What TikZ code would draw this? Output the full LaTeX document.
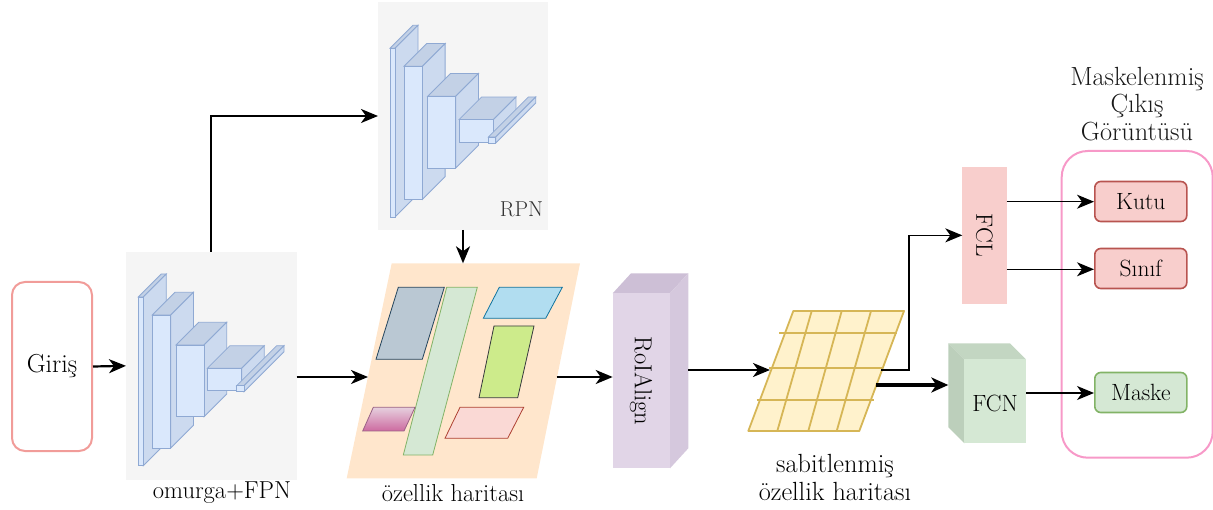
\documentclass[tikz,border=0pt]{standalone}
\usetikzlibrary{arrows.meta,calc}
\definecolor{panelgray}{HTML}{F5F5F5}
\definecolor{cubefront}{HTML}{DAE8FC}
\definecolor{cubetop}{HTML}{C3D1E6}
\definecolor{cubeside}{HTML}{CCDAEF}
\definecolor{cubeedge}{HTML}{8FA9D3}
\definecolor{peach}{HTML}{FFE6CC}
\definecolor{slatefill}{HTML}{BAC8D3}
\definecolor{slateedge}{HTML}{23445D}
\definecolor{greenfill}{HTML}{D5E8D4}
\definecolor{greenedge}{HTML}{82B366}
\definecolor{bluefill}{HTML}{B1DDF0}
\definecolor{blueedge}{HTML}{10739E}
\definecolor{limefill}{HTML}{CDEB8B}
\definecolor{limeedge}{HTML}{36393D}
\definecolor{magtop}{HTML}{E6D0DE}
\definecolor{magbot}{HTML}{CD6AA0}
\definecolor{magedge}{HTML}{996185}
\definecolor{pinkfill}{HTML}{FAD9D5}
\definecolor{pinkedge}{HTML}{AE4132}
\definecolor{lilac}{HTML}{E1D5E7}
\definecolor{lilactop}{HTML}{CDBFD6}
\definecolor{lilacside}{HTML}{D5C8DD}
\definecolor{gridfill}{HTML}{FFF2CC}
\definecolor{gridedge}{HTML}{D6B656}
\definecolor{redfill}{HTML}{F8CECC}
\definecolor{rededge}{HTML}{B85450}
\definecolor{girisedge}{HTML}{F19C99}
\definecolor{outedge}{HTML}{F799C8}
\definecolor{fcntop}{HTML}{C3D6C2}
\definecolor{fcnside}{HTML}{BCCFBB}
\newcommand\cubeblk[5]{%
  \filldraw[cubeedge,fill=cubetop,line width=0.8pt] (#1,#2) -- ++(#5,-#5) -- (#3+#5,#2-#5) -- (#3,#2) -- cycle;
  \filldraw[cubeedge,fill=cubeside,line width=0.8pt] (#3,#2) -- (#3+#5,#2-#5) -- (#3+#5,#4-#5) -- (#3,#4) -- cycle;
  \filldraw[cubeedge,fill=cubefront,line width=0.8pt] (#1,#2) rectangle (#3,#4);}
\newcommand\cnnstack{%
  \cubeblk{138.3}{297}{143.3}{465.7}{23}
  \cubeblk{152.3}{315}{170.7}{448}{22.7}
  \cubeblk{176}{345}{204}{416.7}{22.7}
  \cubeblk{207.3}{368.3}{241.7}{390.7}{22.5}
  \cubeblk{236.7}{385.7}{244}{391.7}{40}}
\begin{document}
\begin{tikzpicture}[x=1pt,y=-1pt,
  font=\fontsize{17.28}{21}\selectfont,
  panel/.style={fill=panelgray,inner sep=0pt,outer sep=0pt,anchor=north west},
  arr/.style={line width=2.2pt,-{Stealth[length=17pt,width=14pt,inset=5pt]}},
  thinarr/.style={line width=1.4pt,-{Stealth[length=17pt,width=14pt,inset=5pt]}},
  outbox/.style={draw=rededge,fill=redfill,line width=1.6pt,rounded corners=6pt,minimum width=92pt,minimum height=40pt,inner sep=0pt,anchor=north west},
  lbl/.style={align=center,inner sep=0pt,scale=1.42},
  boxlbl/.style={align=center,inner sep=0pt,scale=1.36},
  biglbl/.style={align=center,inner sep=0pt,scale=1.52}]
\useasboundingbox (0,0) rectangle (1213,510);

% Input
\node[draw=girisedge,line width=2pt,rounded corners=13pt,minimum width=80pt,minimum height=169pt,inner sep=0pt,anchor=north west] (giris) at (11,281) {};
\node[lbl,scale=1.06] (girist) at (giris.center) {Giriş};

% Backbone panel
\node[panel,minimum width=170.7pt,minimum height=228.3pt] (bb) at (126,251.7) {};
\cnnstack
\node[lbl] (bbl) at (222,493) {omurga+FPN};

% RPN panel
\node[panel,minimum width=170pt,minimum height=228pt] (rpn) at (378,2) {};
\begin{scope}[shift={(251.7,-248.7)}]
\cnnstack
\end{scope}
\node[lbl,scale=0.88,text=black!80] (rpnl) at (521.5,209) {RPN};

% Feature map
\node[inner sep=0pt,outer sep=0pt,minimum width=233.3pt,minimum height=215pt,anchor=north west] (fm) at (346.7,263.3) {};
\fill[peach] (391.7,263.3) -- (580,263.3) -- (536.7,478.3) -- (346.7,478.3) -- cycle;
\filldraw[draw=slateedge,fill=slatefill,line width=0.8pt] (398.3,287.3) -- (444.3,287.3) -- (422.3,359.3) -- (376,359.3) -- cycle;
\filldraw[draw=greenedge,fill=greenfill,line width=0.8pt] (446.7,287.3) -- (477.3,287.3) -- (432.7,455) -- (403.3,455) -- cycle;
\filldraw[draw=blueedge,fill=bluefill,line width=0.8pt] (499.3,287.3) -- (562.3,287.3) -- (545.7,318.3) -- (483.3,318.3) -- cycle;
\filldraw[draw=limeedge,fill=limefill,line width=0.8pt] (494,326) -- (534,326) -- (517.7,397.7) -- (479,397.7) -- cycle;
\shade[top color=magtop,bottom color=magbot,draw=magedge,line width=0.8pt] (373.3,407.3) -- (415,407.3) -- (404,431) -- (362.7,431) -- cycle;
\filldraw[draw=pinkedge,fill=pinkfill,line width=0.8pt] (460,407.3) -- (523.7,407.3) -- (507.7,438.3) -- (445,438.3) -- cycle;
\node[lbl] (fml) at (453,493) {özellik haritası};

% RoIAlign box
\fill[lilactop] (612.7,293.3) -- (631,273.3) -- (688.3,273.3) -- (670,293.3) -- cycle;
\fill[lilacside] (670,293.3) -- (688.3,273.3) -- (688.3,448.3) -- (670,468.3) -- cycle;
\node[fill=lilac,inner sep=0pt,outer sep=0pt,minimum width=57.3pt,minimum height=175pt,anchor=north west] (ra) at (612.7,293.3) {};
\node[lbl,rotate=-90] (ral) at (641,381) {RoIAlign};

% Fixed grid
\node[inner sep=0pt,outer sep=0pt,minimum width=157pt,minimum height=120pt,anchor=north west] (grid) at (748.3,311) {};
\filldraw[draw=gridedge,fill=gridfill,line width=1.8pt,line join=round] (793.3,311) -- (904,311) -- (859.3,431) -- (748.3,431) -- cycle;
\begin{scope}[draw=gridedge,line width=1.8pt]
\draw (811.7,311) -- (777.3,431);
\draw (841.7,311) -- (808.3,431);
\draw (871,311) -- (836.7,431);
\draw (779.3,333.3) -- (896.7,333.3);
\draw (769.3,368.3) -- (883.3,368.3);
\draw (756.7,400) -- (874,400);
\end{scope}
\node[biglbl,font=\fontsize{17.28}{19}\selectfont] (gridl) at (835,477.5) {sabitlenmiş\\özellik haritası};

% FCL
\node[fill=redfill,inner sep=0pt,outer sep=0pt,minimum width=44.4pt,minimum height=137.3pt,anchor=north west] (fcl) at (962.3,166.7) {};
\node[boxlbl,rotate=-90] (fcll) at (fcl.center) {FCL};

% FCN box
\fill[fcntop] (948.3,343.3) -- (1010,343.3) -- (1026,359.3) -- (964.3,359.3) -- cycle;
\fill[fcnside] (948.3,343.3) -- (964.3,359.3) -- (964.3,443.3) -- (948.3,427.3) -- cycle;
\node[fill=greenfill,inner sep=0pt,outer sep=0pt,minimum width=61.7pt,minimum height=84pt,anchor=north west] (fcn) at (964.3,359.3) {};
\node[boxlbl] (fcnl) at (995,403) {FCN};

% Output container
\node[draw=outedge,line width=2pt,rounded corners=26pt,minimum width=151pt,minimum height=306.7pt,inner sep=0pt,anchor=north west] (out) at (1060.7,150) {};
\node[biglbl,font=\fontsize{17.28}{18}\selectfont,text=black!90] (outl) at (1137,104) {Maskelenmiş\\Çıkış\\Görüntüsü};
\node[outbox] (kutu) at (1094,180.7) {};
\node[boxlbl] (kutul) at (kutu.center) {Kutu};
\node[outbox] (sinif) at (1094,247.7) {};
\node[boxlbl] (sinifl) at (sinif.center) {Sınıf};
\node[outbox,draw=greenedge,fill=greenfill] (maske) at (1094,371.7) {};
\node[boxlbl] (maskel) at (maske.center) {Maske};

% Connector end coordinates
\coordinate (fmin) at (368,377);
\coordinate (fmout) at (556.5,377);
\coordinate (rain) at (612.7,377);
\coordinate (raout) at (688.3,370);
\coordinate (gridin) at (770,370);
\coordinate (gridout1) at (881,370);
\coordinate (gridout2) at (875.6,385);
\coordinate (fcnin) at (948.3,385);
\coordinate (fcnout) at (1026,393);
\coordinate (fcltop) at (1006.7,201.7);
\coordinate (fclbot) at (1006.7,269.3);
\coordinate (bend) at (909,370);

% Connectors
\draw[arr] (giris.east) -- (bb.west);
\draw[arr] (bb.north) |- (rpn.west);
\draw[arr] (rpn.south) -- (rpn.south |- fm.north);
\draw[arr] (bb.east |- fmin) -- (fmin);
\draw[arr] (fmout) -- (rain);
\draw[arr] (raout) -- (gridin);
\draw[thinarr] (gridout1) -- (bend) |- (fcl.west);
\draw[line width=3.5pt,-{Stealth[length=17pt,width=15pt,inset=5pt]}] (gridout2) -- (fcnin);
\draw[thinarr] (fcltop) -- (kutu.west |- fcltop);
\draw[thinarr] (fclbot) -- (sinif.west |- fclbot);
\draw[thinarr] (fcnout) -- (maske.west |- fcnout);
\end{tikzpicture}
\end{document}
